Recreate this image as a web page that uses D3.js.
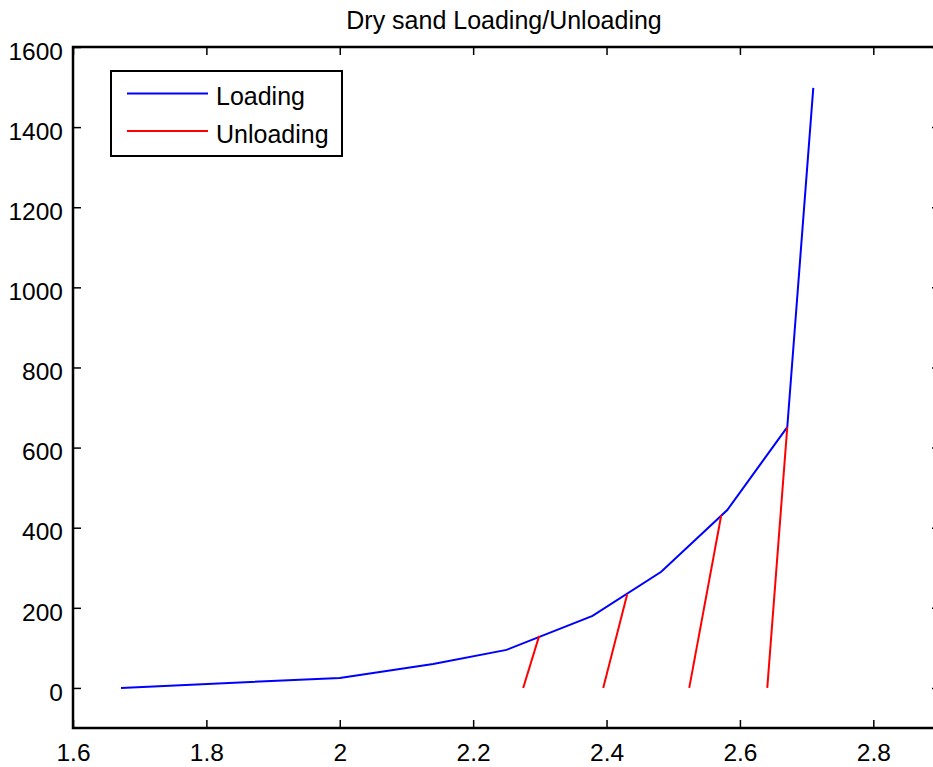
<!DOCTYPE html>
<html>
<head>
<meta charset="utf-8">
<script src="https://cdn.jsdelivr.net/npm/d3@7"></script>
<style>
  html, body { margin: 0; padding: 0; background: #fff; }
  svg { display: block; font-family: "Liberation Sans", Arial, sans-serif; }
</style>
</head>
<body>
<svg id="chart" width="933" height="767"></svg>
<script>
// Loading curve: void ratio-like x vs. stress y
const loadX = [1.672, 2.0, 2.14, 2.25, 2.379, 2.482, 2.581, 2.671, 2.710];
const loadY = [0, 25, 60, 95, 180, 290, 444, 651, 1498];

// Unloading branches, each a straight segment from zero stress up to the loading curve
const unloadX = [[2.275, 2.299], [2.395, 2.431], [2.524, 2.572], [2.641, 2.671]];
const unloadY = [[0, 130], [0, 234], [0, 431], [0, 651]];

const xTicks = [1.6, 1.8, 2.0, 2.2, 2.4, 2.6, 2.8];
const yTicks = [0, 200, 400, 600, 800, 1000, 1200, 1400, 1600];
const xDomain = [1.6, 2.9];
const yDomain = [-100, 1600];

const titleText = "Dry sand Loading/Unloading";
const legendNames = ["Loading", "Unloading"];
const legendColors = ["#0000ff", "#ff0000"];

const plotL = 73, plotR = 940, plotT = 47, plotB = 728;
const svg = d3.select("#chart");

const x = d3.scaleLinear().domain(xDomain).range([plotL, plotR]);
const y = d3.scaleLinear().domain(yDomain).range([plotB, plotT]);

const tickFont = 24.5;
const textFont = 25;
const tickLen = 8;

// Axes: bottom/left with labels, top/right mirrored ticks only
svg.append("g")
  .attr("transform", `translate(0,${plotB})`)
  .call(d3.axisBottom(x).tickValues(xTicks).tickSizeInner(-tickLen).tickSizeOuter(0)
        .tickPadding(16).tickFormat(d => (Math.round(d * 10) / 10).toString()))
  .call(g => g.selectAll("text").attr("font-size", tickFont).attr("fill", "#000")
        .attr("font-family", "Liberation Sans, Arial, sans-serif"));

svg.append("g")
  .attr("transform", `translate(${plotL},0)`)
  .call(d3.axisLeft(y).tickValues(yTicks).tickSizeInner(-tickLen).tickSizeOuter(0)
        .tickPadding(10).tickFormat(d3.format("d")))
  .call(g => g.selectAll("text").attr("font-size", tickFont).attr("fill", "#000")
        .attr("dy", "0.5em")
        .attr("font-family", "Liberation Sans, Arial, sans-serif"));

svg.append("g")
  .attr("transform", `translate(0,${plotT})`)
  .call(d3.axisTop(x).tickValues(xTicks).tickSizeInner(-tickLen).tickSizeOuter(0).tickFormat(""));

svg.append("g")
  .attr("transform", `translate(${plotR},0)`)
  .call(d3.axisRight(y).tickValues(yTicks).tickSizeInner(-tickLen).tickSizeOuter(0).tickFormat(""));

svg.selectAll(".domain").remove();
svg.selectAll(".tick line").attr("stroke", "#000").attr("stroke-width", 1.5);

// Axis box
svg.append("rect")
  .attr("x", plotL).attr("y", plotT)
  .attr("width", plotR - plotL).attr("height", plotB - plotT)
  .attr("fill", "none").attr("stroke", "#000").attr("stroke-width", 2.5);

// Lines
const line = d3.line().x(d => x(d[0])).y(d => y(d[1]));

svg.append("path")
  .datum(d3.zip(loadX, loadY))
  .attr("d", line)
  .attr("fill", "none").attr("stroke", legendColors[0]).attr("stroke-width", 2);

svg.selectAll(".unload")
  .data(unloadX.map((xs, i) => d3.zip(xs, unloadY[i])))
  .join("path")
  .attr("class", "unload")
  .attr("d", line)
  .attr("fill", "none").attr("stroke", legendColors[1]).attr("stroke-width", 2);

// Title
svg.append("text")
  .attr("x", 504).attr("y", 28.5)
  .attr("text-anchor", "middle")
  .attr("font-size", textFont).attr("fill", "#000")
  .text(titleText);

// Legend
const lg = svg.append("g");
lg.append("rect")
  .attr("x", 111).attr("y", 71).attr("width", 231).attr("height", 85)
  .attr("fill", "#fff").attr("stroke", "#000").attr("stroke-width", 2);
legendNames.forEach((name, i) => {
  const ly = 93.5 + i * 37.5;
  lg.append("line")
    .attr("x1", 127).attr("x2", 208).attr("y1", ly).attr("y2", ly)
    .attr("stroke", legendColors[i]).attr("stroke-width", 2);
  lg.append("text")
    .attr("x", 216).attr("y", ly + 11.7)
    .attr("font-size", textFont).attr("fill", "#000")
    .text(name);
});
</script>
</body>
</html>
